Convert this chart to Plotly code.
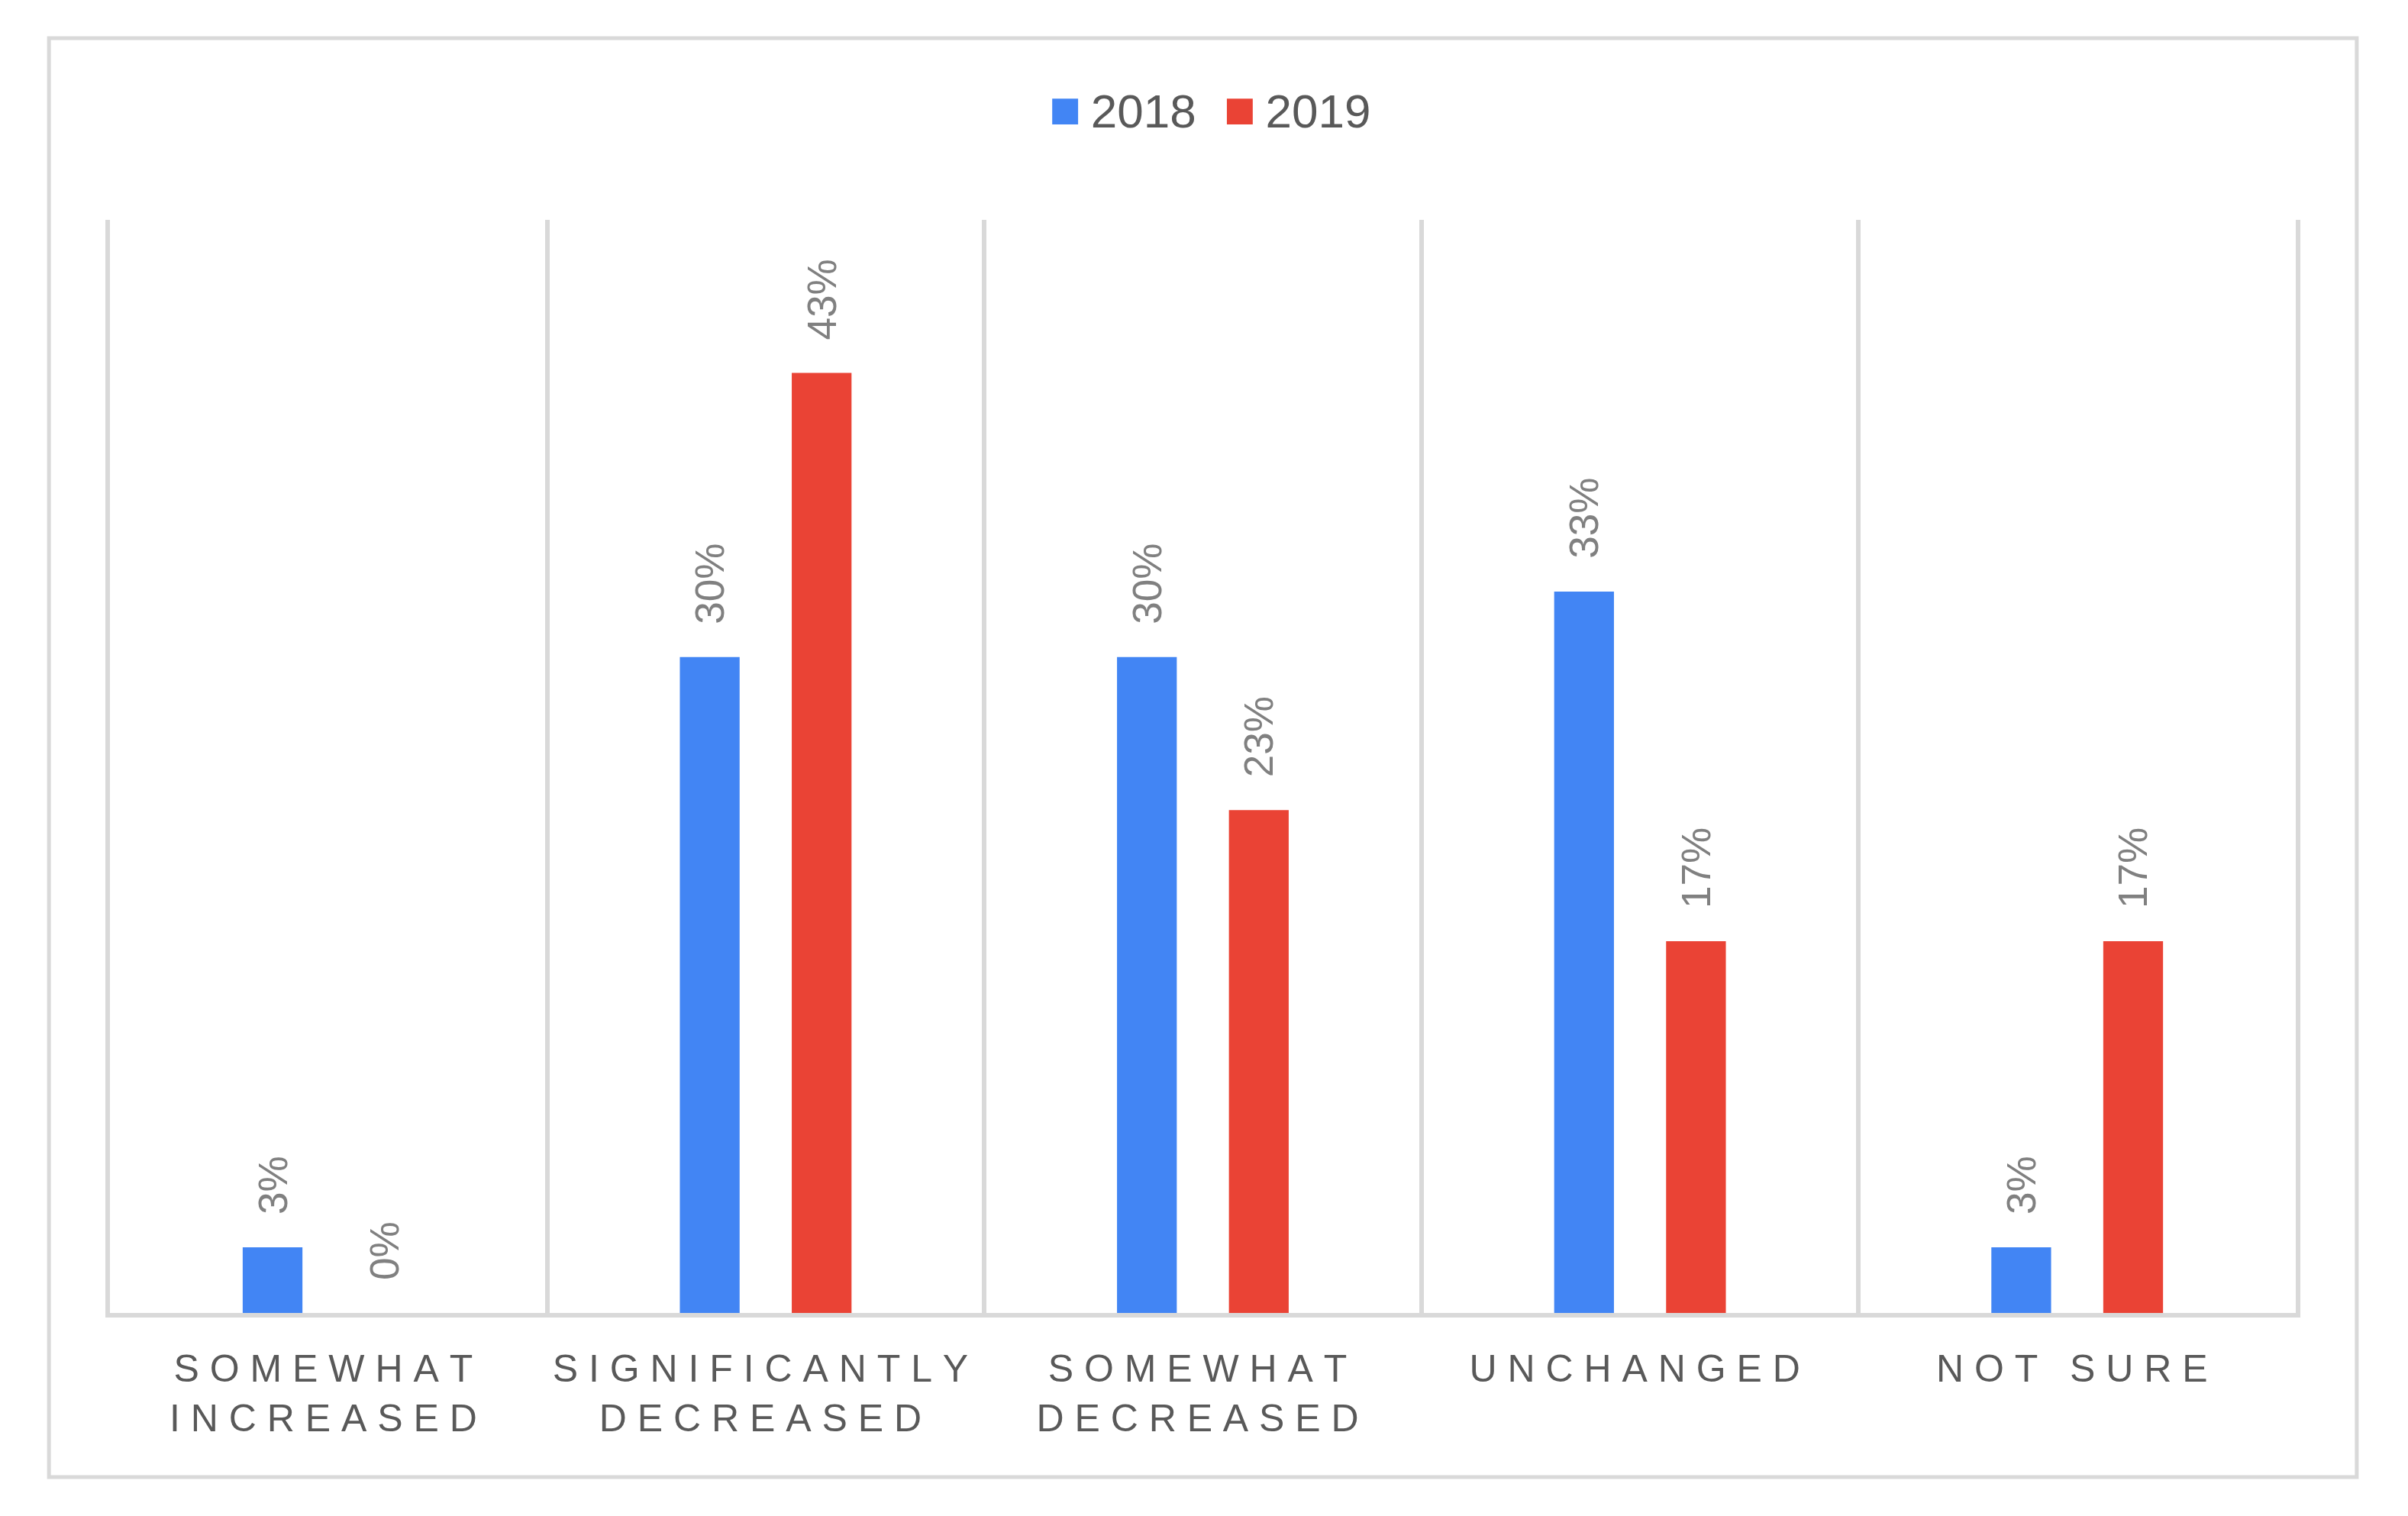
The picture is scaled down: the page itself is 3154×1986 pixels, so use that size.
import plotly.graph_objects as go

categories = ["SOMEWHAT<br>INCREASED", "SIGNIFICANTLY<br>DECREASED", "SOMEWHAT<br>DECREASED",
              "UNCHANGED", "NOT SURE"]
values_2018 = [3, 30, 30, 33, 3]
values_2019 = [0, 43, 23, 17, 17]
series_names = ["2018", "2019"]
colors = ["#4285F4", "#EA4335"]

W, H = 3154, 1986
L, R, T, B = 144, 147, 288, 266
GRID = "#d9d9d9"


def spaced(label):
    # letter-spaced text (spacing follows every letter, as in the original)
    return "<br>".join("".join(ch + "\u2008" for ch in line) for line in label.split("<br>"))


tick_text = [spaced(c) for c in categories]

fig = go.Figure()
for name, vals, col in zip(series_names, [values_2018, values_2019], colors):
    fig.add_trace(go.Bar(
        x=tick_text, y=vals, name=name, marker=dict(color=col, line=dict(width=0)),
        texttemplate="\u00a0\u00a0\u2009%{y}%", textposition="outside", textangle=-90,
        constraintext="none", cliponaxis=False,
        outsidetextfont=dict(family="Arial, Liberation Sans", size=53, color="#808080"),
        showlegend=False,
    ))

sq = '<span style="color:{c};font-size:70px">■</span>'
legend_text = (sq.format(c=colors[0]) + "\u2009" + series_names[0] + "\u2002\u200a"
               + sq.format(c=colors[1]) + "\u2009" + series_names[1])

fig.update_layout(
    width=W, height=H,
    margin=dict(l=L, r=R, t=T, b=B),
    paper_bgcolor="white", plot_bgcolor="white",
    barmode="group", bargap=0.488, bargroupgap=0.466,
    font=dict(family="Arial, Liberation Sans", color="#595959"),
    xaxis=dict(
        tickson="boundaries", showgrid=True, gridcolor=GRID, gridwidth=6,
        showline=True, linecolor=GRID, linewidth=6, ticks="",
        tickfont=dict(size=50, color="#595959"), ticklabelstandoff=24,
    ),
    yaxis=dict(range=[0, 50], showgrid=False, zeroline=False, showticklabels=False,
               showline=True, mirror=True, linecolor=GRID, linewidth=6),
    shapes=[dict(type="rect", xref="paper", yref="paper",
                 x0=-0.0279, x1=1.0279, y0=-0.1501, y1=1.1662,
                 line=dict(color=GRID, width=5), fillcolor="rgba(0,0,0,0)")],
    annotations=[dict(text=legend_text, xref="paper", yref="paper", x=0.5033, y=1.1015,
                      xanchor="center", yanchor="middle", showarrow=False,
                      font=dict(size=62, color="#595959"))],
)

fig.write_html("out.html", config={"displayModeBar": False},
               post_script="document.body.style.margin='0';document.body.style.overflow='hidden';")
